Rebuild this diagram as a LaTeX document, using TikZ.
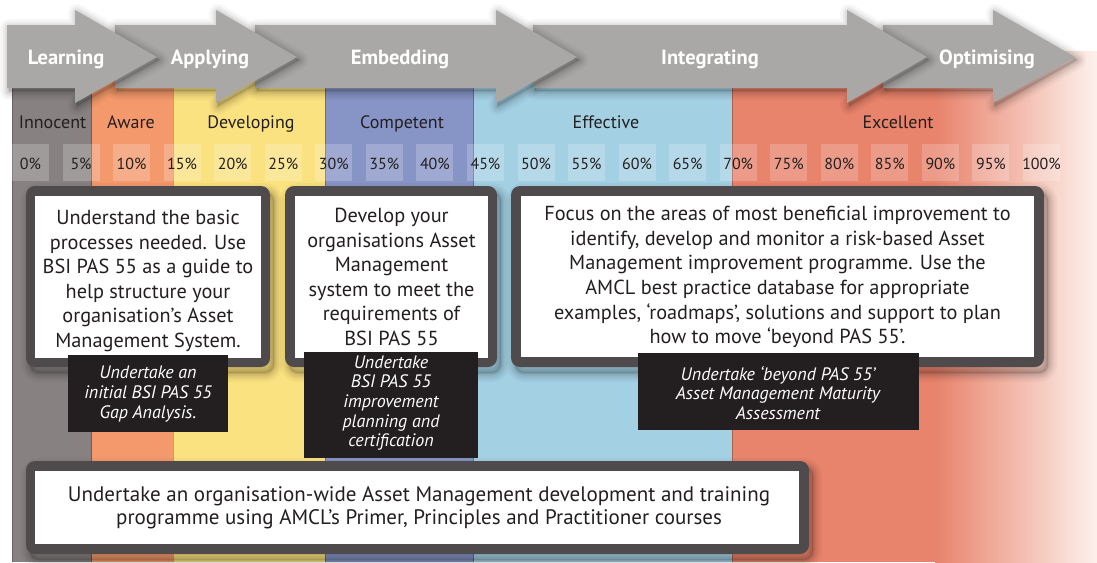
\documentclass[tikz,border=0pt]{standalone}
\usepackage{fontspec}
\setmainfont{PT Sans}
\definecolor{bandgray}{HTML}{878281}
\definecolor{bandorange}{HTML}{F4996C}
\definecolor{bandyellow}{HTML}{FBE280}
\definecolor{bandviolet}{HTML}{8794C6}
\definecolor{bandblue}{HTML}{A4D0E4}
\definecolor{bandred}{HTML}{E8836C}
\definecolor{bandfade}{HTML}{FDF1EC}
\definecolor{arrowgray}{HTML}{A9A8A6}
\definecolor{framegray}{HTML}{4F4A4B}
\definecolor{ink}{HTML}{231F20}

% soft drop shadow: offset dx,dy then a stack of translucent strokes
\newcommand\blurshadow[3]{%
  \begin{scope}[shift={(#1,#2)}]
    \foreach \w/\o in {18/0.03,13/0.04,9/0.05,5/0.06,2/0.07}{
      \draw[black,opacity=\o,line width=\w pt,line join=round] #3;}
    \fill[black,opacity=0.12] #3;
  \end{scope}}

% stage arrow: name, body start, head start, tip, label, label x
\newcommand\stagearrow[6]{%
  \blurshadow{2}{3}{(#2,25) -- (#3,25) -- (#3,10) -- (#4,57) -- (#3,103) -- (#3,88) -- (#2,88) -- cycle}
  \fill[arrowgray] (#2,25) -- (#3,25) -- (#3,10) -- (#4,57) -- (#3,103) -- (#3,88) -- (#2,88) -- cycle;
  \node[stagelabel] (#1) at (#6,64) {#5};}

\tikzset{
  stagelabel/.style={anchor=base,text=white,font=\fontsize{20.5}{22}\selectfont\bfseries,inner sep=0},
  bandlabel/.style={anchor=base,text=ink,font=\fontsize{18}{20}\selectfont,inner sep=0},
  pct/.style={anchor=base,text=ink,font=\fontsize{16}{18}\selectfont,inner sep=0},
  boxtext/.style={text=ink,font=\fontsize{20.3}{24.6}\selectfont,align=center,inner sep=0},
  tasktext/.style={text=white,font=\fontsize{18}{19.6}\selectfont\itshape,align=center,inner sep=0},
  bottomtext/.style={text=ink,font=\fontsize{21}{23}\selectfont,align=center,inner sep=0},
}

\begin{document}
\begin{tikzpicture}[x=1pt,y=-1pt]
\useasboundingbox (0,0) rectangle (1097,562);
\fill[white] (0,0) rectangle (1097,562);

% maturity bands
\fill[bandgray]   (12,51)    rectangle (91.7,562);
\fill[bandorange] (91.7,51)  rectangle (173,562);
\fill[bandyellow] (173,51)   rectangle (325,562);
\fill[bandviolet] (325,51)   rectangle (473.7,562);
\fill[bandblue]   (473.7,51) rectangle (732,562);
\fill[bandred]    (732,51)   rectangle (936,562);
\shade[left color=bandred,right color=bandfade] (935,51) rectangle (1097,562);
\foreach \bx in {12,91.7,173,325,473.7,732}
  \draw[black,opacity=0.25,line width=0.6pt] (\bx,51) -- (\bx,562);

% band names
\node[bandlabel] (innocent)  at (52.5,128) {Innocent};
\node[bandlabel] (aware)     at (131,128)  {Aware};
\node[bandlabel] (developing) at (251,128) {Developing};
\node[bandlabel] (competent) at (402,128)  {Competent};
\node[bandlabel] (effective) at (606,128)  {Effective};
\node[bandlabel] (excellent) at (898,128)  {Excellent};

% percentage scale
\foreach \i in {0,...,20}{
  \pgfmathsetmacro\px{12+50.55*\i}
  \fill[white,opacity=0.2] (\px,144) rectangle ++(37,37);
  \node[pct] (p\i) at (\px+18.5,169) {\the\numexpr\i*5\relax\%};
}

% stage arrows, later stages underneath
\stagearrow{optimising}{883}{993}{1075}{Optimising}{987}
\stagearrow{integrating}{533}{847}{927}{Integrating}{710}
\stagearrow{embedding}{255}{496}{577}{Embedding}{400}
\stagearrow{applying}{115}{216}{297}{Applying}{210}
\stagearrow{learning}{7}{75}{157}{Learning}{66}

% action boxes
\blurshadow{4}{6}{[rounded corners=9pt] (26,186) rectangle (270,367)}
\fill[framegray,rounded corners=9pt] (26,186) rectangle (270,367);
\fill[white] (35,196) rectangle (261,358);
\node[boxtext] (understand) at (148,281) {Understand the basic\\processes needed. Use\\BSI PAS 55 as a guide to\\help structure your\\organisation’s Asset\\Management System.};

\blurshadow{4}{6}{[rounded corners=9pt] (285,186) rectangle (497,367)}
\fill[framegray,rounded corners=9pt] (285,186) rectangle (497,367);
\fill[white] (295,196) rectangle (488,358);
\node[boxtext] (develop) at (391.5,277) {Develop your\\organisations Asset\\Management\\system to meet the\\requirements of\\BSI PAS 55};

\blurshadow{4}{6}{[rounded corners=9pt] (511,186) rectangle (1044,367)}
\fill[framegray,rounded corners=9pt] (511,186) rectangle (1044,367);
\fill[white] (521,196) rectangle (1034,357);
\node[boxtext] (focus) at (777.5,277) {Focus on the areas of most beneficial improvement to\\identify, develop and monitor a risk-based Asset\\Management improvement programme. Use the\\AMCL best practice database for appropriate\\examples, ‘roadmaps’, solutions and support to plan\\how to move ‘beyond PAS 55’.};

% assessment tasks
\fill[ink] (68,355) rectangle (228,432);
\node[tasktext] (gap) at (148,394) {Undertake an\\initial BSI PAS 55\\Gap Analysis.};
\fill[ink] (304,352) rectangle (478,458);
\node[tasktext] (cert) at (391,403) {Undertake\\BSI PAS 55\\improvement\\planning and\\certification};
\fill[ink] (638,353) rectangle (919,430);
\node[tasktext] (maturity) at (778,393) {Undertake ‘beyond PAS 55’\\Asset Management Maturity\\Assessment};

% training programme
\blurshadow{4}{6}{[rounded corners=9pt] (26,461) rectangle (809,554)}
\fill[framegray,rounded corners=9pt] (26,461) rectangle (809,554);
\fill[white] (35,471) rectangle (799,544);
\node[bottomtext] (training) at (419,508) {Undertake an organisation-wide Asset Management development and training\\programme using AMCL’s Primer, Principles and Practitioner courses};
\end{tikzpicture}
\end{document}
